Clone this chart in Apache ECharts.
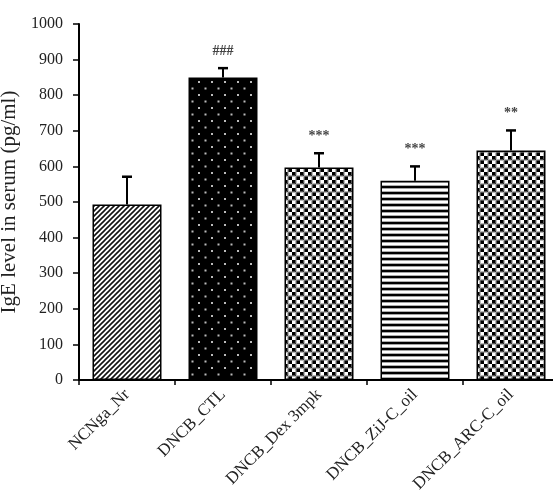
<!DOCTYPE html>
<html>
<head>
<meta charset="utf-8">
<script src="https://cdn.jsdelivr.net/npm/echarts@6/dist/echarts.min.js"></script>
<style>
  html, body { margin: 0; padding: 0; background: #fff; }
  #chart { width: 553px; height: 498px; }
</style>
</head>
<body>
<div id="chart"></div>
<script>
// data
const groups = ['NCNga_Nr', 'DNCB_CTL', 'DNCB_Dex 3mpk', 'DNCB_ZiJ-C_oil', 'DNCB_ARC-C_oil']
const means = [493, 850, 597, 560, 645]
const errors = [78, 26, 40, 40, 56]
const marks = ['', '###', '***', '***', '**']
const yTicks = [0, 100, 200, 300, 400, 500, 600, 700, 800, 900, 1000]

const serif = '"Liberation Serif", "DejaVu Serif", serif'

// fill patterns
function makeTile (w, h, draw) {
  const c = document.createElement('canvas')
  c.width = w
  c.height = h
  const ctx = c.getContext('2d')
  ctx.fillStyle = '#fff'
  ctx.fillRect(0, 0, w, h)
  draw(ctx)
  return { image: c, repeat: 'repeat' }
}

const diagonal = makeTile(5, 5, ctx => {
  ctx.strokeStyle = '#111'
  ctx.lineWidth = 1.6
  ctx.beginPath()
  ctx.moveTo(-1, 6); ctx.lineTo(6, -1)
  ctx.moveTo(-1, 1); ctx.lineTo(1, -1)
  ctx.moveTo(4, 6); ctx.lineTo(6, 4)
  ctx.stroke()
})

const dots = makeTile(13, 13, ctx => {
  ctx.fillStyle = '#000'
  ctx.fillRect(0, 0, 13, 13)
  ctx.fillStyle = '#bbb'
  ctx.fillRect(3, 3, 2, 2)
  ctx.fillRect(9.5, 9.5, 2, 2)
})

const checker = makeTile(8, 8, ctx => {
  ctx.fillStyle = '#000'
  ctx.fillRect(0, 0, 4, 4)
  ctx.fillRect(4, 4, 4, 4)
  ctx.strokeStyle = '#888'
  ctx.lineWidth = 0.6
  ctx.strokeRect(0.5, 0.5, 7, 7)
})

const hstripes = makeTile(6, 6, ctx => {
  ctx.fillStyle = '#000'
  ctx.fillRect(0, 0, 6, 2.2)
  ctx.fillStyle = '#999'
  ctx.fillRect(0, 2.2, 6, 0.8)
  ctx.fillRect(0, 5.2, 6, 0.8)
})

const fills = [diagonal, dots, checker, hstripes, checker]

const chart = echarts.init(document.getElementById('chart'))

chart.setOption({
  animation: false,
  grid: {
    left: 79,
    top: 24,
    width: 480,
    height: 356,
    outerBoundsMode: 'none',
    containLabel: false
  },
  xAxis: {
    type: 'category',
    data: groups,
    axisLine: { lineStyle: { color: '#000', width: 2 } },
    axisTick: { show: true, length: 5, lineStyle: { color: '#000', width: 1.5 } },
    axisLabel: {
      rotate: 45,
      margin: 12,
      interval: 0,
      color: '#222',
      fontFamily: serif,
      fontSize: 17
    }
  },
  yAxis: {
    type: 'value',
    min: 0,
    max: 1000,
    interval: 100,
    name: 'IgE level in serum (pg/ml)',
    nameLocation: 'middle',
    nameGap: 54,
    nameTextStyle: { color: '#222', fontFamily: serif, fontSize: 21 },
    splitLine: { show: false },
    axisLine: { show: true, lineStyle: { color: '#000', width: 2 } },
    axisTick: { show: true, length: 6, lineStyle: { color: '#000', width: 1.5 } },
    axisLabel: {
      margin: 16,
      color: '#222',
      fontFamily: serif,
      fontSize: 16,
      formatter: v => (yTicks.indexOf(v) >= 0 ? String(v) : '')
    }
  },
  series: [
    {
      type: 'bar',
      barWidth: 69,
      data: means.map((v, i) => ({
        value: v,
        itemStyle: { color: fills[i] }
      })),
      itemStyle: { borderColor: '#000', borderWidth: 1.5 },
      z: 2
    },
    {
      type: 'custom',
      z: 3,
      data: means.map((v, i) => [i, v, v + errors[i]]),
      renderItem: (params, api) => {
        const base = api.coord([api.value(0), api.value(1)])
        const top = api.coord([api.value(0), api.value(2)])
        const x = base[0]
        const children = [
          { type: 'line', shape: { x1: x, y1: base[1], x2: x, y2: top[1] }, style: { stroke: '#000', lineWidth: 2 } },
          { type: 'line', shape: { x1: x - 5, y1: top[1], x2: x + 5, y2: top[1] }, style: { stroke: '#000', lineWidth: 2.5 } }
        ]
        const mark = marks[params.dataIndex]
        if (mark) {
          children.push({
            type: 'text',
            x: x,
            y: top[1] - 17,
            style: {
              text: mark,
              fill: '#444',
              font: 'bold 14px ' + serif,
              align: 'center',
              verticalAlign: 'middle'
            }
          })
        }
        return { type: 'group', children }
      }
    }
  ]
})
</script>
</body>
</html>
